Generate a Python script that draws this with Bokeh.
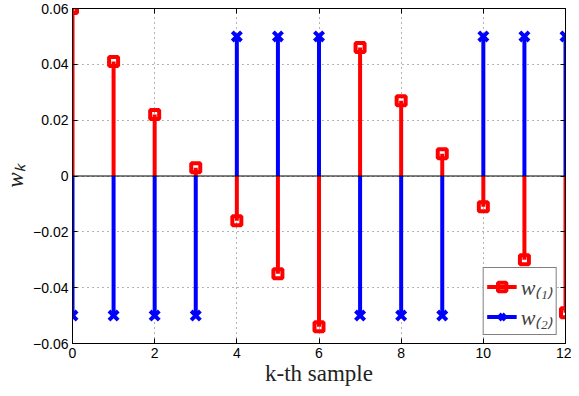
from bokeh.plotting import figure
from bokeh.models import (ColumnDataSource, Span, LinearAxis, Legend, LegendItem,
                          FixedTicker, Range1d, CustomJSTickFormatter)
from bokeh.embed import file_html
from bokeh.resources import INLINE

# data
k = [0, 1, 2, 3, 4, 5, 6, 7, 8, 9, 10, 11, 12]
w1 = [0.060, 0.041, 0.022, 0.003, -0.016, -0.035, -0.054, 0.046, 0.027, 0.008, -0.011, -0.030, -0.049]
w2 = [-0.05, -0.05, -0.05, -0.05, 0.05, 0.05, 0.05, -0.05, -0.05, -0.05, 0.05, 0.05, 0.05]
x_ticks = [0, 2, 4, 6, 8, 10, 12]
x_tick_labels = ["0", "2", "4", "6", "8", "10", "12"]
y_ticks = [-0.06, -0.04, -0.02, 0, 0.02, 0.04, 0.06]
y_tick_labels = ["\u22120.06", "\u22120.04", "\u22120.02", "0", "0.02", "0.04", "0.06"]
series_labels = ["w\u208d\u2081\u208e", "w\u208d\u2082\u208e"]
x_label = "k-th sample"
y_label = "w\u2096"

src = ColumnDataSource(data=dict(k=k, w1=w1, w2=w2, zero=[0] * len(k)))

p = figure(width=571, height=388, output_backend="svg", toolbar_location=None,
           x_range=Range1d(0, 12), y_range=Range1d(-0.06, 0.06),
           min_border_left=66, min_border_right=6, min_border_top=8, min_border_bottom=40)
p.outline_line_color = "black"
p.outline_line_width = 1

TICK_FONT = "Liberation Sans"
SERIF = "Liberation Serif"

lookup_code = """
for (let i = 0; i < tvals.length; i++) {
    if (Math.abs(tvals[i] - tick) < 1e-9) { return tlabels[i]; }
}
return "";
"""
p.xaxis.ticker = FixedTicker(ticks=x_ticks)
p.yaxis.ticker = FixedTicker(ticks=y_ticks)
p.xaxis.formatter = CustomJSTickFormatter(args=dict(tvals=x_ticks, tlabels=x_tick_labels), code=lookup_code)
p.yaxis.formatter = CustomJSTickFormatter(args=dict(tvals=y_ticks, tlabels=y_tick_labels), code=lookup_code)
for ax in (p.xaxis[0], p.yaxis[0]):
    ax.major_tick_in = 5
    ax.major_tick_out = 0
    ax.minor_tick_line_color = None
    ax.major_label_text_font = TICK_FONT
    ax.major_label_text_font_size = "14px"
    ax.major_label_text_color = "black"
    ax.axis_line_color = "black"
    ax.major_tick_line_color = "black"
    ax.axis_label_text_font = SERIF
    ax.axis_label_text_color = "#222222"
p.xaxis.major_label_standoff = 4
p.yaxis.major_label_standoff = 4
p.xaxis.axis_label = x_label
p.xaxis.axis_label_standoff = 0
p.xaxis.axis_label_text_font_size = "23px"
p.xaxis.axis_label_text_font_style = "normal"
p.yaxis.axis_label = y_label
p.yaxis.axis_label_standoff = 2
p.yaxis.axis_label_text_font_size = "23px"
p.yaxis.axis_label_text_font_style = "italic"

# box ticks on top/right
blank = CustomJSTickFormatter(code="return '';")
top = LinearAxis(ticker=FixedTicker(ticks=x_ticks), major_tick_in=5, major_tick_out=0,
                 formatter=blank, major_label_standoff=0, minor_tick_line_color=None)
right = LinearAxis(ticker=FixedTicker(ticks=y_ticks), major_tick_in=5, major_tick_out=0,
                   formatter=blank, major_label_standoff=0, minor_tick_line_color=None)
p.add_layout(top, "above")
p.add_layout(right, "right")

for g in (p.xgrid[0], p.ygrid[0]):
    g.grid_line_color = "#666666"
    g.grid_line_dash = "1 4"
    g.grid_line_width = 1
p.xgrid.ticker = FixedTicker(ticks=x_ticks)
p.ygrid.ticker = FixedTicker(ticks=y_ticks)

s1 = p.segment(x0="k", y0="zero", x1="k", y1="w1", source=src, line_color="#ff0000", line_width=4)
m1 = p.scatter(x="k", y="w1", source=src, marker="square", size=9, line_color="#ff0000",
               line_width=4, fill_alpha=0)
s2 = p.segment(x0="k", y0="zero", x1="k", y1="w2", source=src, line_color="#0000ff", line_width=4)
m2 = p.scatter(x="k", y="w2", source=src, marker="x", size=13, line_color="#0000ff",
               line_width=4)

p.add_layout(Span(location=0, dimension="width", line_color="black", line_width=1))

legend = Legend(items=[LegendItem(label=series_labels[0], renderers=[s1, m1]),
                       LegendItem(label=series_labels[1], renderers=[s2, m2])],
                location="bottom_right", margin=8, padding=3, spacing=0,
                glyph_width=30, glyph_height=21, label_standoff=4,
                label_text_font=SERIF, label_text_font_style="italic",
                label_text_font_size="22px", label_height=21,
                border_line_color="black", border_line_width=1,
                background_fill_alpha=1)
p.add_layout(legend, "center")

open("out.html", "w").write(file_html(p, INLINE))
